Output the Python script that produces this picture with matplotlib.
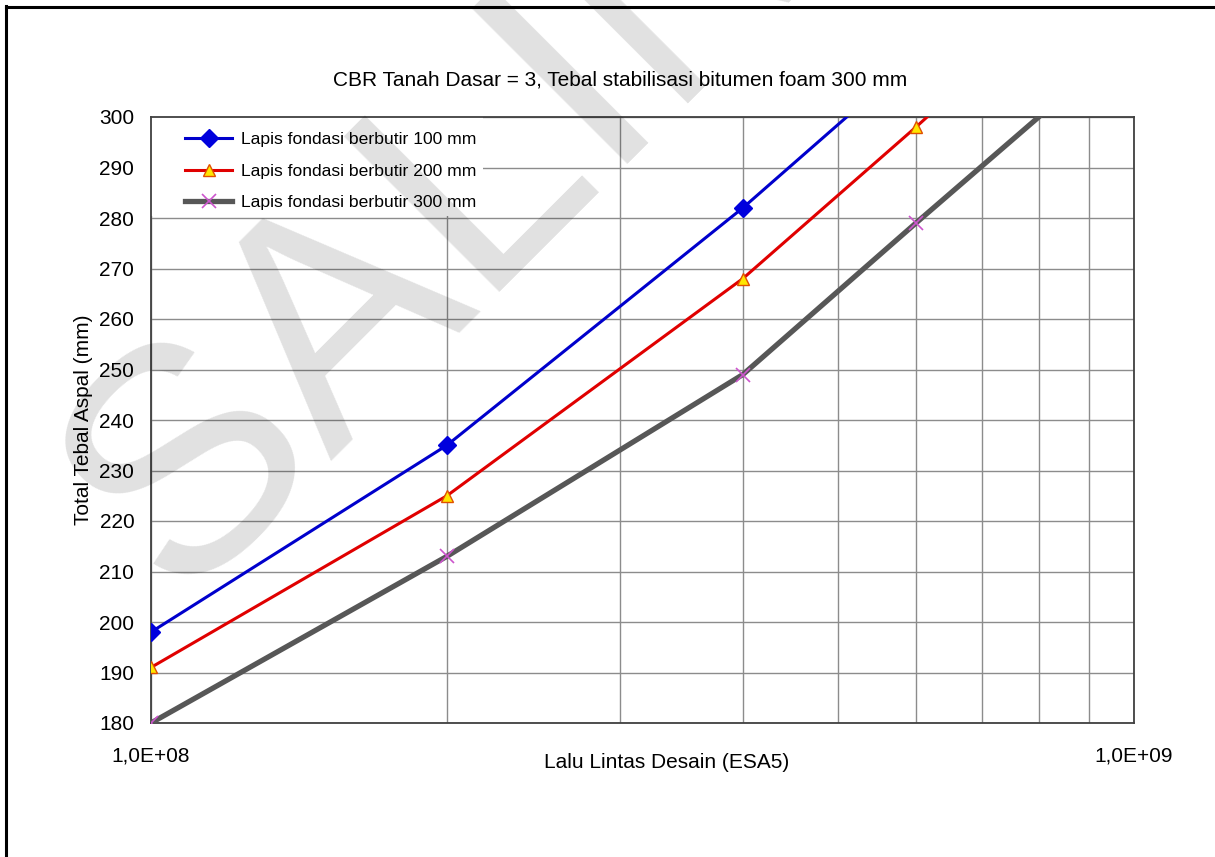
import matplotlib.pyplot as plt
from matplotlib.lines import Line2D
from matplotlib.patches import Rectangle
from matplotlib.ticker import NullFormatter

plt.rcParams['font.family'] = ['Liberation Sans', 'DejaVu Sans']

# Lalu lintas desain (ESA5) dan total tebal aspal (mm) untuk tiap tebal lapis fondasi
lalu_lintas = [1e8, 2e8, 4e8, 6e8, 8e8]
tebal_100 = [198, 235, 282, 312]
tebal_200 = [191, 225, 268, 298, 320]
tebal_300 = [180, 213, 249, 279, 300]
label_seri = ['Lapis fondasi berbutir 100 mm',
              'Lapis fondasi berbutir 200 mm',
              'Lapis fondasi berbutir 300 mm']

y_ticks = list(range(180, 301, 10))
x_ticks = [1e8, 1e9]
x_tick_labels = ['1,0E+08', '1,0E+09']
x_minor = [2e8, 3e8, 4e8, 5e8, 6e8, 7e8, 8e8, 9e8]

judul = 'CBR Tanah Dasar = 3, Tebal stabilisasi bitumen foam 300 mm'
label_x = 'Lalu Lintas Desain (ESA5)'
label_y = 'Total Tebal Aspal (mm)'

W, H = 1215, 857
fig = plt.figure(figsize=(W / 100, H / 100), dpi=100)
ax = fig.add_axes([151 / W, 1 - 723 / H, (1134 - 151) / W, (723 - 117) / H])
ax.set_facecolor('none')

# garis tepi halaman
fig.add_artist(Line2D([6 / W, 6 / W], [0, 1 - 6 / H], color='black', lw=2.2))
fig.add_artist(Line2D([6 / W, 1], [1 - 7 / H, 1 - 7 / H], color='black', lw=2.2))

ax.plot(lalu_lintas[:len(tebal_100)], tebal_100, color='#0000cc', lw=2.2,
        marker='D', ms=9, mfc='#0000dd', mec='#0000dd', zorder=4, label=label_seri[0])
ax.plot(lalu_lintas[:len(tebal_200)], tebal_200, color='#e00000', lw=2.2,
        marker='^', ms=9, mfc='#ffe600', mec='#e05000', mew=1.0, zorder=4, label=label_seri[1])
ax.plot(lalu_lintas[:len(tebal_300)], tebal_300, color='#575757', lw=3.8,
        marker='x', ms=10, mec='#cc55cc', mew=1.2, markevery=slice(0, 4), zorder=4,
        label=label_seri[2])

ax.set_xscale('log')
ax.set_xlim(1e8, 1e9)
ax.set_ylim(180, 300)
ax.set_yticks(y_ticks)
ax.set_xticks(x_ticks, labels=x_tick_labels)
ax.set_xticks(x_minor, minor=True)
ax.xaxis.set_minor_formatter(NullFormatter())
ax.tick_params(axis='both', which='both', length=0, labelsize=15)
ax.tick_params(axis='y', pad=12)
ax.tick_params(axis='x', pad=17)

ax.set_axisbelow(True)
ax.grid(True, which='both', axis='x', color='#8c8c8c', lw=1.0)
ax.grid(True, which='major', axis='y', color='#8c8c8c', lw=1.0)
for s in ax.spines.values():
    s.set_color('#404040')
    s.set_linewidth(1.3)

# latar putih legenda menutup garis grid
ax.add_patch(Rectangle((0, 0.836), 0.338, 0.164, transform=ax.transAxes,
                       facecolor='white', edgecolor='none', zorder=2))
ax.legend(loc='upper left', bbox_to_anchor=(0.0346, 0.975), frameon=False,
          fontsize=12.6, borderpad=0, borderaxespad=0, handlelength=2.7,
          handletextpad=0.5, labelspacing=0.92, numpoints=1)

fig.text(620 / W, 1 - 80 / H, judul, ha='center', va='center', fontsize=15)
fig.text(667 / W, 1 - 763 / H, label_x, ha='center', va='center', fontsize=15)
fig.text(84 / W, 1 - 420 / H, label_y, ha='center', va='center', fontsize=15,
         rotation=90)

# tanda air
fig.text(176 / W, 1 - 601 / H, 'SALINAN', fontsize=230, rotation=45,
         rotation_mode='anchor', ha='left', va='baseline', color='black',
         alpha=0.12, zorder=10)

fig.savefig('out.png', dpi=100)
